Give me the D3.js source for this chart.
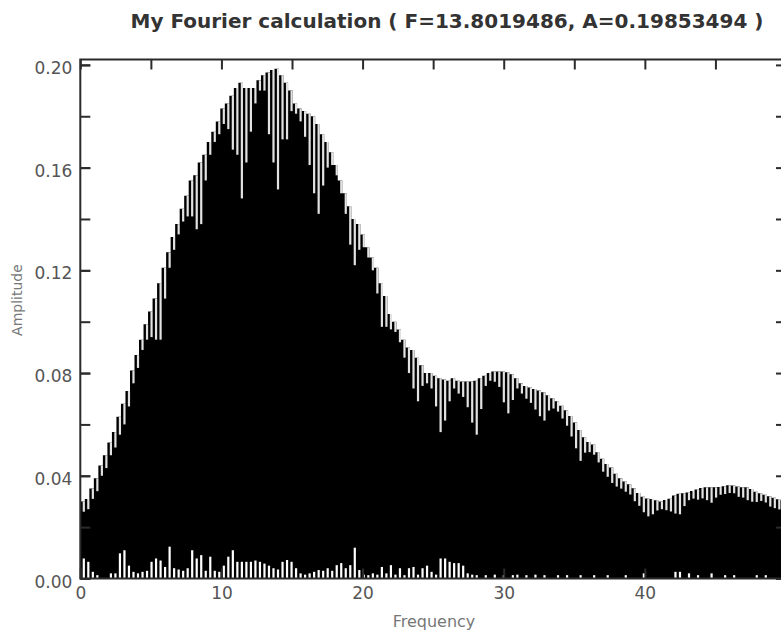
<!DOCTYPE html>
<html>
<head>
<meta charset="utf-8">
<script src="https://cdn.jsdelivr.net/npm/d3@7"></script>
<style>
  html, body { margin: 0; padding: 0; background: #fff; }
  svg { display: block; }
</style>
</head>
<body>
<svg id="chart" width="781" height="635"></svg>
<script>
// Amplitude spectrum, one entry per frequency bin (bin width 0.32)
const binWidth = 0.32;

// Peak amplitude reached in each bin
const amplitude = [
  0.030, 0.031, 0.035, 0.039, 0.044, 0.048, 0.053, 0.057, 0.063, 0.068,
  0.073, 0.081, 0.087, 0.093, 0.099, 0.104, 0.109, 0.115, 0.121, 0.127,
  0.133, 0.138, 0.144, 0.149, 0.155, 0.157, 0.162, 0.165, 0.170, 0.174,
  0.178, 0.183, 0.185, 0.188, 0.191, 0.193, 0.191, 0.191, 0.191, 0.194,
  0.196, 0.197, 0.198, 0.1985, 0.196, 0.193, 0.190, 0.185, 0.183, 0.182,
  0.181, 0.180, 0.177, 0.173, 0.170, 0.166, 0.161, 0.155, 0.150, 0.145,
  0.140, 0.138, 0.134, 0.129, 0.125, 0.121, 0.115, 0.110, 0.103, 0.100,
  0.097, 0.093, 0.090, 0.089, 0.086, 0.083, 0.080, 0.080, 0.079, 0.078,
  0.0775, 0.077, 0.078, 0.077, 0.0767, 0.0767, 0.0767, 0.077, 0.078, 0.079,
  0.080, 0.0806, 0.0806, 0.0806, 0.0803, 0.0795, 0.078, 0.076, 0.075, 0.0744,
  0.0738, 0.0732, 0.0725, 0.0714, 0.0702, 0.069, 0.0673, 0.0655, 0.0633, 0.0607,
  0.0578, 0.0550, 0.0532, 0.0522, 0.0492, 0.0466, 0.0446, 0.0432, 0.0408, 0.0390,
  0.0378, 0.0367, 0.0351, 0.0333, 0.0318, 0.0312, 0.0310, 0.0305, 0.0300, 0.0306,
  0.0311, 0.0323, 0.0330, 0.0332, 0.0335, 0.0341, 0.0347, 0.0352, 0.0355, 0.0355,
  0.0355, 0.0356, 0.0359, 0.0363, 0.0362, 0.0358, 0.0355, 0.0355, 0.0349, 0.0338,
  0.0332, 0.0326, 0.0320, 0.0314, 0.0309, 0.0305
];

// Lowest amplitude between this bin's peak and the next one
const trough = [
  0.026, 0.027, 0.031, 0.034, 0.040, 0.043, 0.048, 0.051, 0.056, 0.060,
  0.067, 0.076, 0.082, 0.089, 0.093, 0.094, 0.093, 0.093, 0.109, 0.121,
  0.128, 0.134, 0.139, 0.141, 0.141, 0.136, 0.138, 0.155, 0.165, 0.170,
  0.173, 0.177, 0.175, 0.167, 0.165, 0.148, 0.162, 0.174, 0.185, 0.190,
  0.190, 0.173, 0.162, 0.1515, 0.171, 0.171, 0.182, 0.181, 0.178, 0.172,
  0.161, 0.150, 0.142, 0.153, 0.160, 0.161, 0.157, 0.150, 0.142, 0.130,
  0.122, 0.128, 0.129, 0.125, 0.120, 0.111, 0.098, 0.098, 0.097, 0.096,
  0.092, 0.086, 0.080, 0.074, 0.069, 0.075, 0.076, 0.074, 0.067, 0.057,
  0.0615, 0.069, 0.074, 0.072, 0.0707, 0.0667, 0.0607, 0.056, 0.066, 0.075,
  0.077, 0.0766, 0.0746, 0.0686, 0.0643, 0.0695, 0.074, 0.072, 0.070, 0.0684,
  0.0658, 0.0632, 0.0615, 0.0654, 0.0662, 0.065, 0.0623, 0.0595, 0.0553, 0.0507,
  0.0458, 0.049, 0.0492, 0.0482, 0.0452, 0.0416, 0.0396, 0.0372, 0.0358, 0.035,
  0.0338, 0.0327, 0.0301, 0.0283, 0.0258, 0.0242, 0.025, 0.0265, 0.027, 0.0266,
  0.0261, 0.0253, 0.025, 0.0282, 0.0305, 0.0311, 0.0307, 0.0312, 0.0305, 0.0295,
  0.0315, 0.0326, 0.0329, 0.0333, 0.0332, 0.0318, 0.0315, 0.0305, 0.0299, 0.0298,
  0.0302, 0.0296, 0.028, 0.0274, 0.0269, 0.0265
];

// Residual amplitude left at the foot of each bin
const floorLevel = [
  0.0078, 0.0065, 0.0026, 0.0013, 0.0, 0.0, 0.002, 0.002, 0.0098, 0.011,
  0.005, 0.0026, 0.002, 0.0026, 0.003, 0.0065, 0.0078, 0.007, 0.0045, 0.0124,
  0.004, 0.0035, 0.003, 0.004, 0.011, 0.0078, 0.0091, 0.003, 0.0085, 0.003,
  0.0026, 0.005, 0.0085, 0.011, 0.0065, 0.0065, 0.0065, 0.0065, 0.007, 0.0065,
  0.0058, 0.005, 0.004, 0.0035, 0.0065, 0.0072, 0.0065, 0.004, 0.002, 0.0015,
  0.002, 0.0026, 0.0033, 0.003, 0.004, 0.003, 0.0052, 0.006, 0.004, 0.0052,
  0.012, 0.0033, 0.0015, 0.0013, 0.002, 0.0015, 0.0045, 0.002, 0.0052, 0.0015,
  0.004, 0.0013, 0.004, 0.0045, 0.0015, 0.004, 0.005, 0.0026, 0.0015, 0.0078,
  0.0078, 0.0065, 0.006, 0.006, 0.005, 0.002, 0.0015, 0.0013, 0.0, 0.0013,
  0.0, 0.0015, 0.0, 0.0013, 0.0, 0.0013, 0.0015, 0.0, 0.0013, 0.0,
  0.0015, 0.0, 0.0013, 0.0, 0.0, 0.0013, 0.0, 0.0013, 0.0, 0.0,
  0.0013, 0.0, 0.0, 0.0013, 0.0, 0.0, 0.0013, 0.0, 0.0, 0.0,
  0.0013, 0.0, 0.0, 0.0, 0.002, 0.0, 0.0, 0.0, 0.0, 0.0,
  0.0, 0.0026, 0.0026, 0.0, 0.002, 0.0, 0.0013, 0.0, 0.0, 0.002,
  0.0, 0.0, 0.0013, 0.0, 0.0013, 0.0, 0.0, 0.0, 0.0, 0.0013,
  0.0, 0.0013, 0.0, 0.0, 0.0, 0.0
];

// Axis ticks
const xMajorTicks = [0, 10, 20, 30, 40];
const xMinorTicks = [0, 5, 10, 15, 20, 25, 30, 35, 40, 45, 50];
const yMajorTicks = [0, 0.04, 0.08, 0.12, 0.16, 0.20];
const yMinorTicks = [0, 0.02, 0.04, 0.06, 0.08, 0.10, 0.12, 0.14, 0.16, 0.18, 0.20];

const titleText = "My Fourier calculation ( F=13.8019486, A=0.19853494 )";
const xTitle = "Frequency";
const yTitle = "Amplitude";

const svg = d3.select("#chart");
const plot = { left: 80.3, right: 786, top: 59.5, bottom: 578.5 };

const x = d3.scaleLinear().domain([0, 50]).range([plot.left, plot.right]);
const y = d3.scaleLinear().domain([0, 0.2021]).range([plot.bottom, plot.top]);

const bins = amplitude.map((a, i) => ({
  f0: i * binWidth,
  f1: (i + 1) * binWidth,
  amp: a,
  low: trough[i],
  foot: floorLevel[i]
}));

svg.append("clipPath").attr("id", "plotClip")
  .append("rect")
  .attr("x", plot.left).attr("y", plot.top)
  .attr("width", plot.right - plot.left).attr("height", plot.bottom - plot.top);

const g = svg.append("g").attr("clip-path", "url(#plotClip)");

// Solid stepped spectrum: one path so neighbouring bins join without seams
const stepPoints = bins.map(d => ({ f: d.f0, amp: d.amp }));
const lastBin = bins[bins.length - 1];
stepPoints.push({ f: lastBin.f1, amp: lastBin.amp });

const stepArea = d3.area()
  .x(d => x(d.f))
  .y0(y(0))
  .y1(d => y(d.amp))
  .curve(d3.curveStepAfter);

g.append("path")
  .datum(stepPoints)
  .attr("d", stepArea)
  .attr("fill", "#000");

// Narrow notch between neighbouring peaks, down to the trough
const notchOffset = 2.4, notchWidth = 2.2;
g.append("g").selectAll("rect").data(bins).join("rect")
  .attr("x", d => x(d.f0) + notchOffset)
  .attr("width", notchWidth)
  .attr("y", d => y(d.amp))
  .attr("height", d => Math.max(0, y(d.low) - y(d.amp)))
  .attr("fill", "#e2e2e2");

// Residual gaps along the baseline
g.append("g").selectAll("rect").data(bins.filter(d => d.foot > 0)).join("rect")
  .attr("x", d => x(d.f0) + notchOffset)
  .attr("width", notchWidth)
  .attr("y", d => y(d.foot))
  .attr("height", d => y(0) - y(d.foot))
  .attr("fill", "#fff");

// Frame
const axisColor = "#2b2b2b";
svg.append("rect")
  .attr("x", plot.left).attr("y", plot.top)
  .attr("width", plot.right - plot.left).attr("height", plot.bottom - plot.top)
  .attr("fill", "none").attr("stroke", axisColor).attr("stroke-width", 2);

const tickLen = 10;
const labelFont = "'DejaVu Sans', sans-serif";

function styleAxis(sel) {
  sel.select(".domain").remove();
  sel.selectAll(".tick line").attr("stroke", axisColor).attr("stroke-width", 2);
  sel.selectAll(".tick text")
    .attr("fill", "#555")
    .style("font-family", labelFont)
    .style("font-size", "17px");
}

// Bottom axis: labelled ticks
svg.append("g")
  .attr("transform", `translate(0,${plot.bottom})`)
  .call(d3.axisBottom(x).tickValues(xMajorTicks).tickSize(-tickLen).tickPadding(8).tickFormat(d3.format("d")))
  .call(styleAxis);

// Top axis: unlabelled ticks pointing inward
svg.append("g")
  .attr("transform", `translate(0,${plot.top})`)
  .call(d3.axisTop(x).tickValues(xMinorTicks).tickSize(-tickLen).tickFormat(""))
  .call(styleAxis);

// Left axis: minor ticks, then labelled ones
svg.append("g")
  .attr("transform", `translate(${plot.left},0)`)
  .call(d3.axisLeft(y).tickValues(yMinorTicks).tickSize(-tickLen).tickFormat(""))
  .call(styleAxis);
svg.append("g")
  .attr("transform", `translate(${plot.left},0)`)
  .call(d3.axisLeft(y).tickValues(yMajorTicks).tickSize(-tickLen).tickPadding(8).tickFormat(d3.format(".2f")))
  .call(styleAxis)
  .selectAll(".tick text").attr("dy", "0.5em");

// Right axis ticks
svg.append("g")
  .attr("transform", `translate(${plot.right},0)`)
  .call(d3.axisRight(y).tickValues(yMinorTicks).tickSize(-tickLen).tickFormat(""))
  .call(styleAxis);

// Titles
svg.append("text")
  .attr("x", 447).attr("y", 28)
  .attr("text-anchor", "middle")
  .attr("fill", "#333")
  .style("font-family", labelFont)
  .style("font-weight", "bold")
  .style("font-size", "20px")
  .text(titleText);

svg.append("text")
  .attr("x", 434).attr("y", 627)
  .attr("text-anchor", "middle")
  .attr("fill", "#777")
  .style("font-family", labelFont)
  .style("font-size", "16px")
  .text(xTitle);

svg.append("text")
  .attr("transform", "translate(22,300) rotate(-90)")
  .attr("text-anchor", "middle")
  .attr("fill", "#777")
  .style("font-family", labelFont)
  .style("font-size", "14px")
  .text(yTitle);
</script>
</body>
</html>
